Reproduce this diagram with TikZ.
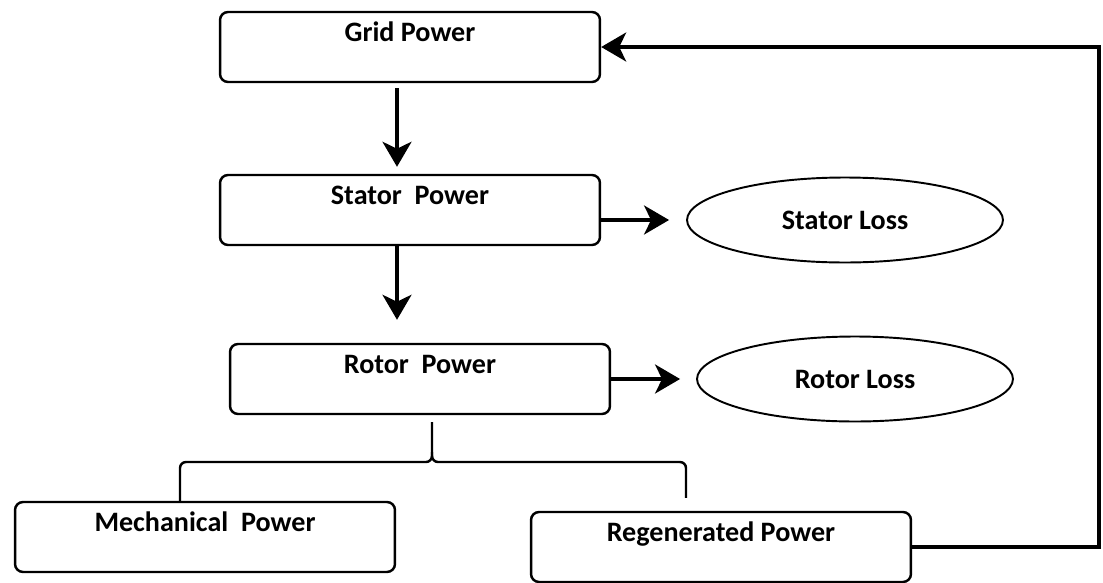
\documentclass[tikz,border=0pt]{standalone}
\usepackage{fontspec}
\setmainfont{Carlito}
\usetikzlibrary{arrows.meta,shapes.geometric,calc}

\begin{document}
\begin{tikzpicture}[x=0.02cm,y=-0.02cm,
  every node/.style={font=\fontsize{16}{19}\selectfont\bfseries},
  powerbox/.style={draw,line width=1.4pt,rounded corners=0.16cm,minimum width=7.6cm,
    inner sep=0pt,text height=0.58cm,text depth=0.82cm},
  lossbox/.style={draw,ellipse,line width=1.1pt,minimum width=6.32cm,minimum height=1.7cm,inner sep=0pt},
  flow/.style={line width=2pt,-{Stealth[length=0.5cm,width=0.58cm,inset=0.14cm]}},
  link/.style={line width=1.4pt,rounded corners=0.12cm}]
\useasboundingbox (0,0) rectangle (1103,582);
% power chain
\node[powerbox] (grid) at (410,47) {Grid Power};
\node[powerbox] (stator) at (410,210) {Stator\ \ Power};
\node[powerbox] (rotor) at (420,379) {Rotor\ \ Power};
\node[powerbox] (mech) at (205,537) {Mechanical\ \ Power};
\node[powerbox] (regen) at (721,547) {Regenerated Power};
% losses
\node[lossbox] (statorloss) at (845,220) {Stator Loss};
\node[lossbox] (rotorloss) at (855,379) {Rotor Loss};
% arrows
\draw[flow] ($(grid.south)+(-13,5)$) -- ($(stator.north)+(-13,-7)$);
\draw[flow] ($(stator.south)+(-13,0)$) -- ($(stator.south |- rotor.north)+(-13,-23)$);
\draw[flow] (stator.east |- statorloss.west) -- ($(statorloss.west)+(-17,0)$);
\draw[flow] (rotor.east) -- ($(rotorloss.west)+(-16,0)$);
% split of the rotor power
\coordinate (fork) at (432,462);
\coordinate (forkL) at (180,462);
\coordinate (forkR) at (686,462);
\draw[link] (forkL |- mech.north) |- (fork) -- ($(fork |- rotor.south)+(0,7)$);
\draw[link] ($(forkR |- regen.north)+(0,-13)$) |- (fork) -- ($(fork)+(0,-10)$);
% regenerated power back to the grid
\coordinate (back) at (1099,47);
\draw[flow] (regen.east) -| (back) -- (grid.east);
\end{tikzpicture}
\end{document}
